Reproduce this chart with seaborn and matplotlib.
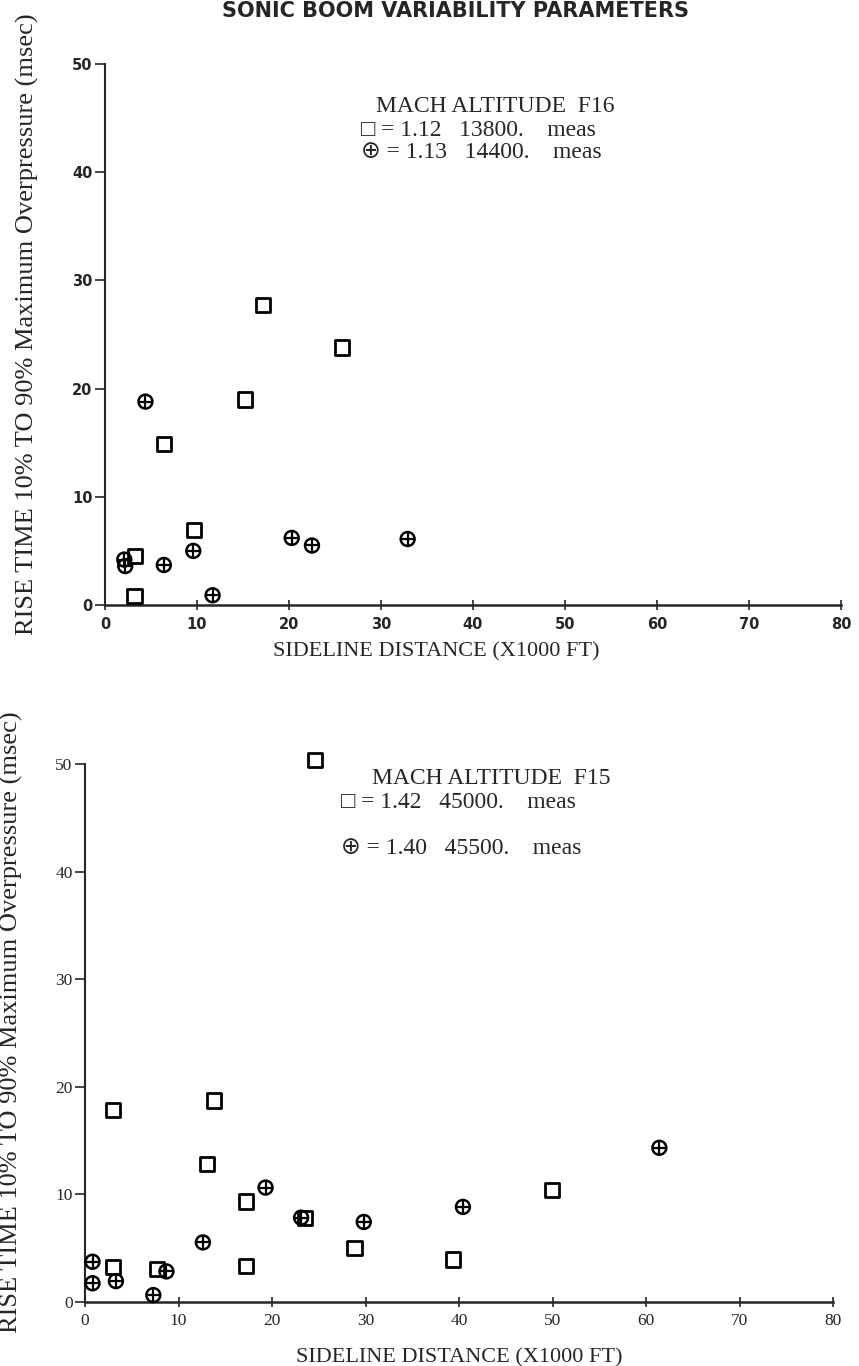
import matplotlib
matplotlib.use("Agg")
import matplotlib.pyplot as plt
import seaborn as sns

# F16 (top panel)
f16_sq_x = [3.2, 3.3, 6.4, 9.7, 15.2, 17.2, 25.8]
f16_sq_y = [0.8, 4.5, 14.9, 6.9, 19.0, 27.7, 23.8]
f16_cx_x = [2.1, 2.2, 4.4, 6.4, 9.6, 11.7, 20.3, 22.5, 32.9]
f16_cx_y = [4.2, 3.6, 18.8, 3.7, 5.0, 0.9, 6.2, 5.5, 6.1]

# F15 (bottom panel)
f15_sq_x = [3.0, 3.0, 7.7, 13.0, 13.8, 17.2, 17.2, 23.5, 24.6, 28.8, 39.3, 49.9]
f15_sq_y = [17.8, 3.2, 3.0, 12.8, 18.7, 9.3, 3.3, 7.8, 50.4, 5.0, 3.9, 10.4]
f15_cx_x = [0.8, 0.8, 3.3, 7.3, 8.7, 12.6, 19.3, 23.1, 29.8, 40.4, 61.4]
f15_cx_y = [3.7, 1.7, 1.9, 0.6, 2.8, 5.5, 10.6, 7.8, 7.4, 8.8, 14.3]

x_ticks = [0, 10, 20, 30, 40, 50, 60, 70, 80]
y_ticks = [0, 10, 20, 30, 40, 50]

xlabel = "SIDELINE DISTANCE (X1000 FT)"
ylabel = "RISE TIME 10% TO 90% Maximum Overpressure (msec)"

sns.set_style("ticks")
plt.rcParams["font.family"] = ["Liberation Serif", "DejaVu Sans"]

fig = plt.figure(figsize=(8.59, 13.66), dpi=100)
ax1 = fig.add_axes([0.1222, 0.5571, 0.8568, 0.3960])
ax2 = fig.add_axes([0.0990, 0.0472, 0.8711, 0.3935])


def draw_panel(ax, sq_x, sq_y, cx_x, cx_y):
    sns.scatterplot(x=sq_x, y=sq_y, ax=ax, marker="s", s=105, fc="none",
                    ec="black", linewidth=2.0, zorder=3, clip_on=False)
    sns.scatterplot(x=cx_x, y=cx_y, ax=ax, marker="o", s=100, fc="none",
                    ec="black", linewidth=1.8, zorder=3, clip_on=False)
    sns.scatterplot(x=cx_x, y=cx_y, ax=ax, marker="+", s=100, color="black",
                    linewidth=1.6, zorder=3, clip_on=False)
    ax.set_xlim(0, 80)
    ax.set_ylim(0, 50)
    ax.set_xticks(x_ticks)
    ax.set_yticks(y_ticks)
    sns.despine(ax=ax)
    ax.spines["left"].set_linewidth(1.5)
    ax.spines["bottom"].set_linewidth(1.8)
    ax.tick_params(axis="y", direction="out", length=7, width=1.2, pad=2)
    ax.tick_params(axis="x", direction="inout", length=7, width=1.2, pad=5)


draw_panel(ax1, f16_sq_x, f16_sq_y, f16_cx_x, f16_cx_y)
draw_panel(ax2, f15_sq_x, f15_sq_y, f15_cx_x, f15_cx_y)

for lab in ax1.get_xticklabels() + ax1.get_yticklabels():
    lab.set_family("DejaVu Sans")
    lab.set_fontweight("bold")
    lab.set_fontsize(10.5)
for lab in ax2.get_xticklabels() + ax2.get_yticklabels():
    lab.set_fontsize(12.5)

ax1.set_xlabel(xlabel, fontsize=16)
ax1.xaxis.set_label_coords(0.45, -0.068)
ax1.set_ylabel(ylabel, fontsize=19)
ax1.yaxis.set_label_coords(-0.090, 0.52)

ax2.set_xlabel(xlabel, fontsize=16)
ax2.xaxis.set_label_coords(0.5, -0.087)
ax2.set_ylabel(ylabel, fontsize=19)
ax2.yaxis.set_label_coords(-0.083, 0.52)

# legend blocks
fs = 17
fig.text(0.438, 1 - 107 / 1366, "MACH ALTITUDE  F16", fontsize=fs, va="center")
fig.text(0.420, 1 - 130 / 1366, "\u25a1 = 1.12   13800.    meas", fontsize=fs, va="center")
fig.text(0.420, 1 - 153 / 1366, "\u2295 = 1.13   14400.    meas", fontsize=fs, va="center")

fig.text(0.433, 1 - 778 / 1366, "MACH ALTITUDE  F15", fontsize=fs, va="center")
fig.text(0.397, 1 - 803 / 1366, "\u25a1 = 1.42   45000.    meas", fontsize=fs, va="center")
fig.text(0.397, 1 - 848 / 1366, "\u2295 = 1.40   45500.    meas", fontsize=fs, va="center")

fig.text(0.53, 0.999, "SONIC BOOM VARIABILITY PARAMETERS", fontsize=15,
         fontweight="bold", family="DejaVu Sans", ha="center", va="top")

fig.savefig("out.png", dpi=100)
